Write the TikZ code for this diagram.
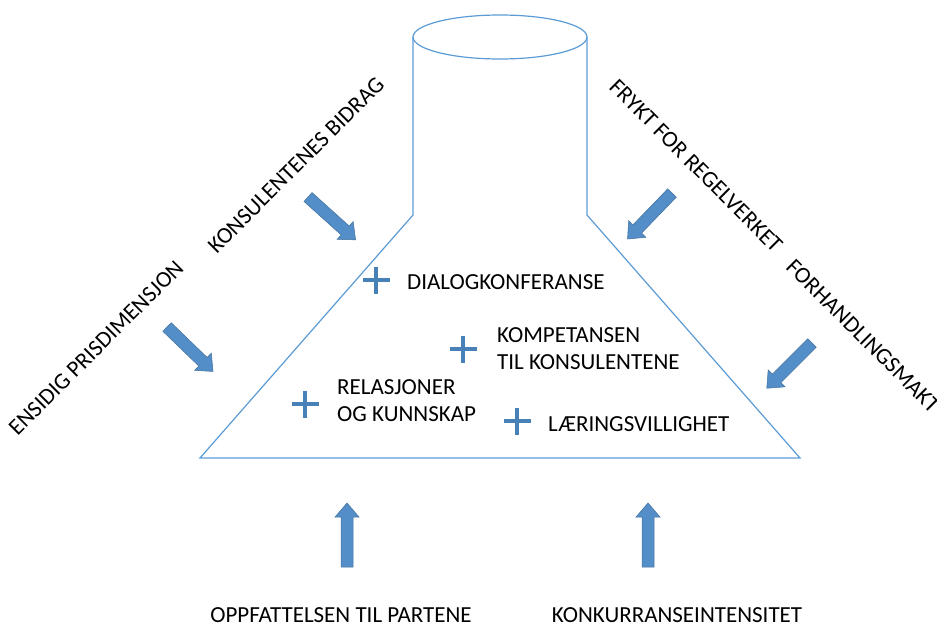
\documentclass[tikz,border=0pt]{standalone}
\usepackage{fontspec}
\setmainfont{Carlito}
\usetikzlibrary{calc}
\definecolor{kolbeblaa}{RGB}{91,155,213}
\definecolor{pilblaa}{RGB}{84,142,200}
\definecolor{pilkant}{RGB}{65,113,156}
\definecolor{plussblaa}{RGB}{72,128,184}

\tikzset{
	kolbe/.style={draw=kolbeblaa, line width=1.2pt},
	pil/.style={fill=pilblaa, draw=pilkant, line width=0.5pt},
	pluss/.style={draw=plussblaa, line width=4.5pt},
	tekst/.style={inner sep=0pt, font=\fontsize{23}{27}\selectfont, align=left},
	blokkpil/.pic={\path[pil] (0,-6) -- (50,-6) -- (50,-12) -- (64,0) -- (50,12) -- (50,6) -- (0,6) -- cycle;}
}

\begin{document}
\begin{tikzpicture}[x=1pt,y=-1pt]
	\useasboundingbox (0,0) rectangle (937,626);
	\clip (0,0) rectangle (937,626);
	% kolben
	\draw[kolbe] (413,37) -- (413,215) -- (200,458) -- (800,458) -- (587,215) -- (587,37);
	\draw[kolbe] (500,37) ellipse [x radius=87pt, y radius=22pt];
	% innhold
	\draw[pluss] (376,280) +(-13.5,0) -- +(13.5,0) +(0,-13.5) -- +(0,13.5);
	\node at (407,289)[tekst, anchor=base west] (dialog) {DIALOGKONFERANSE};
	\draw[pluss] (463,349) +(-13.5,0) -- +(13.5,0) +(0,-13.5) -- +(0,13.5);
	\node at (497,349)[tekst, anchor=west] (kompetanse) {KOMPETANSEN\\TIL KONSULENTENE};
	\draw[pluss] (305,404) +(-13.5,0) -- +(13.5,0) +(0,-13.5) -- +(0,13.5);
	\node at (337,401)[tekst, anchor=west] (relasjoner) {RELASJONER\\OG KUNNSKAP};
	\draw[pluss] (517,421) +(-13.5,0) -- +(13.5,0) +(0,-13.5) -- +(0,13.5);
	\node at (548,431)[tekst, anchor=base west] (laering) {LÆRINGSVILLIGHET};
	% krefter utenfra
	\node at (96,348)[tekst, rotate=45] (ensidig) {ENSIDIG PRISDIMENSJON};
	\node at (296,165)[tekst, rotate=45] (bidrag) {KONSULENTENES BIDRAG};
	\node at (696,166)[tekst, rotate=-45] (frykt) {FRYKT FOR REGELVERKET};
	\node at (863,336)[tekst, rotate=-45] (forhandling) {FORHANDLINGSMAKT};
	\node at (341,622)[tekst, anchor=base] (oppfattelsen) {OPPFATTELSEN TIL PARTENE};
	\node at (677,622)[tekst, anchor=base] (konkurranse) {KONKURRANSEINTENSITET};
	% piler
	\pic[rotate=-44] at (167,327) {blokkpil};
	\pic[rotate=-42] at (308,197) {blokkpil};
	\pic[rotate=-134] at (672,193) {blokkpil};
	\pic[rotate=-135] at (812,343) {blokkpil};
	\pic[rotate=90] at (347,567) {blokkpil};
	\pic[rotate=90] at (648,567) {blokkpil};
\end{tikzpicture}
\end{document}
